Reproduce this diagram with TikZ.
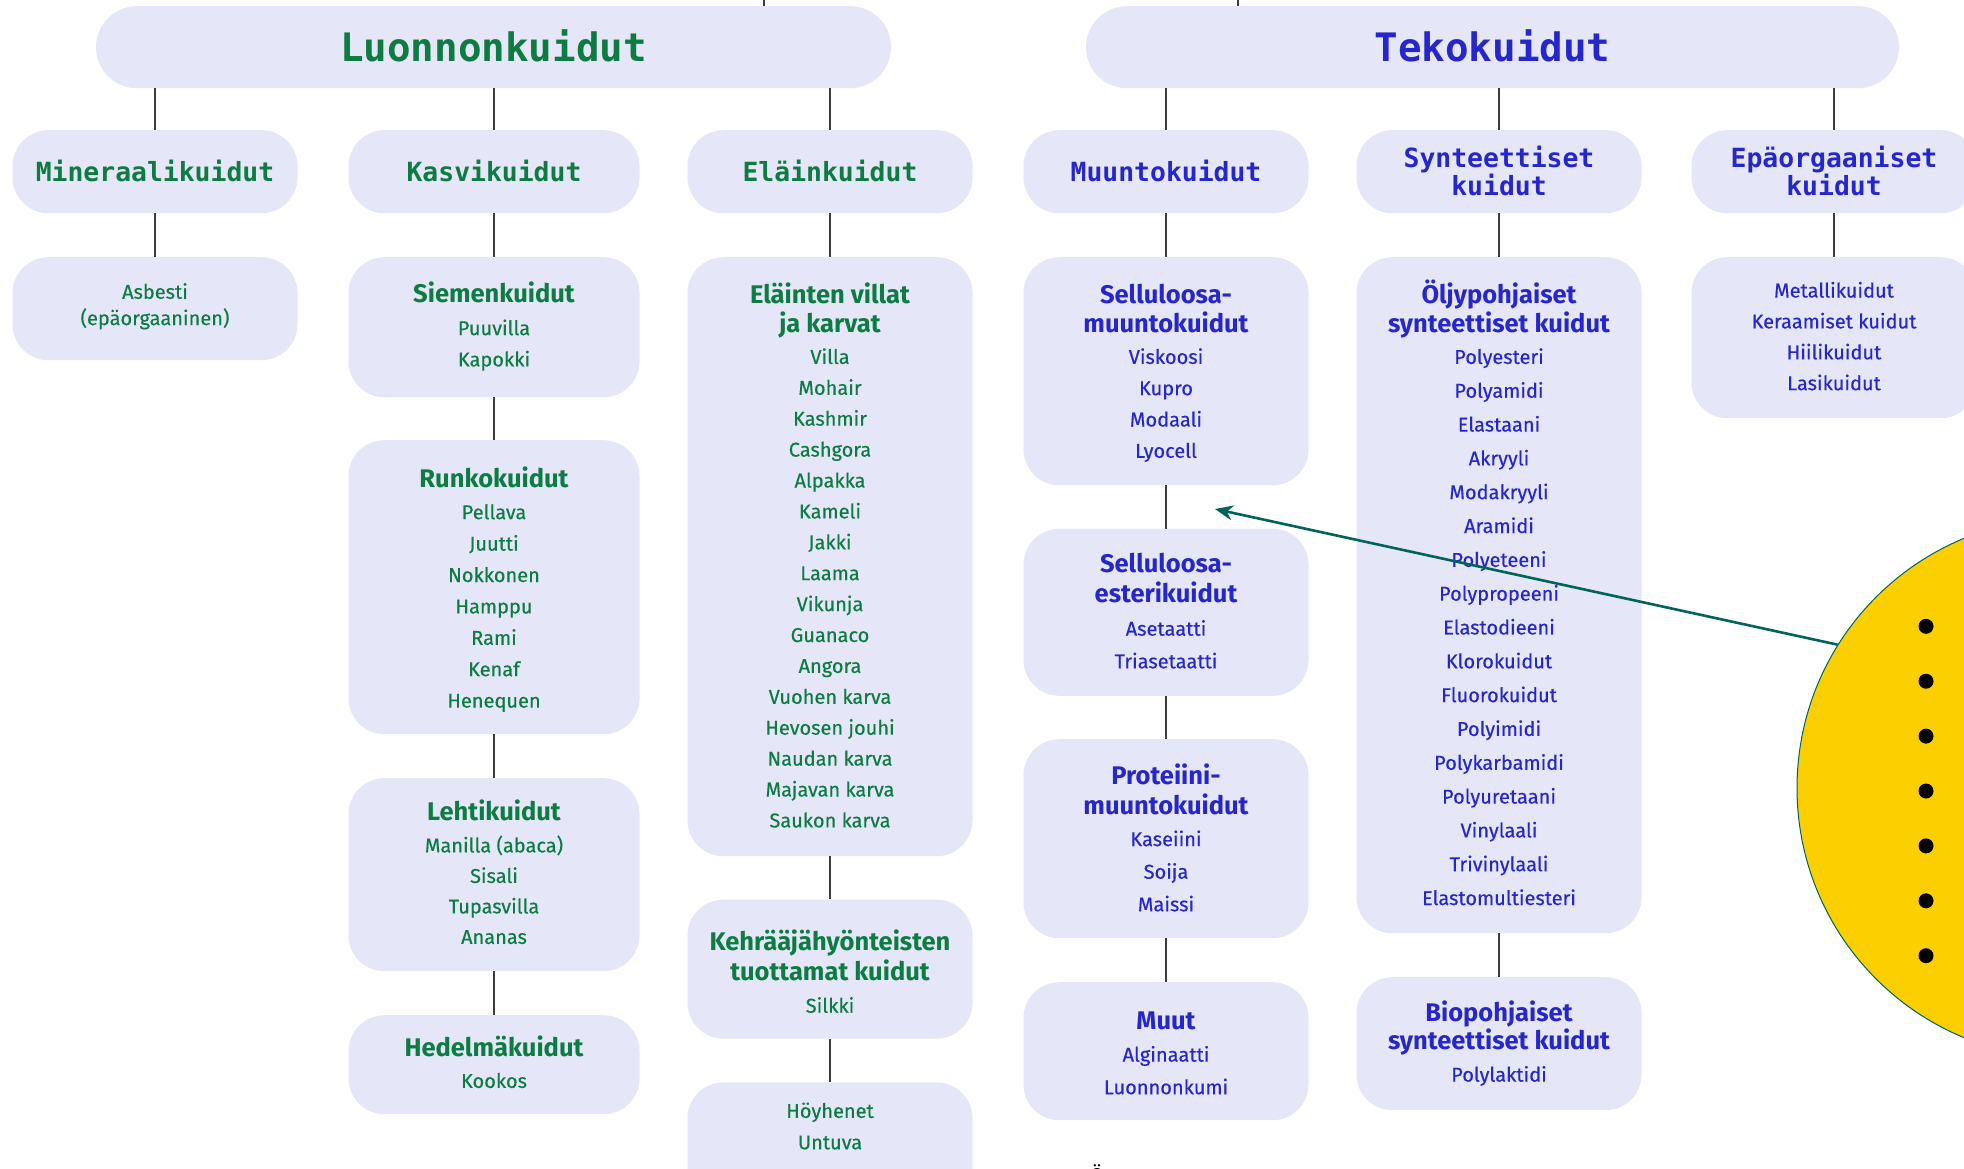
\documentclass[tikz,border=0pt]{standalone}
\usepackage{fontspec}
\setmainfont{Fira Sans}
\newfontfamily\medf[FakeBold=0.35]{Fira Sans}
\newfontfamily\monof{DejaVu Sans Mono}
\usetikzlibrary{arrows.meta}
\definecolor{grn}{RGB}{12,124,66}
\definecolor{blu}{RGB}{38,38,205}
\definecolor{boxf}{RGB}{229,230,247}
\definecolor{tealc}{RGB}{0,100,90}
\definecolor{ylw}{RGB}{252,207,0}
\definecolor{lnc}{RGB}{60,60,60}
\tikzset{
  box/.style={rectangle, rounded corners=36pt, fill=boxf, inner sep=0pt, anchor=north},
  pill/.style={box, rounded corners=41pt},
  conn/.style={draw=lnc, line width=1.3pt},
  arr/.style={draw=tealc, line width=2.6pt, -{Stealth[length=18pt,width=15pt]}},
  itm/.style={anchor=base, inner sep=0pt, font=\medf\fontsize{20}{24}\selectfont},
  ttl/.style={anchor=base, inner sep=0pt, font=\bfseries\fontsize{25.5}{28}\selectfont},
  hdr/.style={anchor=base, inner sep=0pt, font=\monof\bfseries\fontsize{26.4}{28}\selectfont},
  big/.style={anchor=base, inner sep=0pt, font=\monof\bfseries\fontsize{39.2}{42}\selectfont},
  gi/.style={itm, text=grn}, bi/.style={itm, text=blu},
  gt/.style={ttl, text=grn}, bt/.style={ttl, text=blu},
  dotb/.style={circle, fill=black, minimum size=15pt, inner sep=0pt}
}
\newcommand\mylist[6]{%
  \foreach \t [count=\i from 0] in {#6} {\node[#5] (#1\i) at (#2, {#3+\i*#4}) {\t};}}
\begin{document}
\begin{tikzpicture}[x=1pt, y=-1pt]
\useasboundingbox (0,0) rectangle (1964,1168);
\fill[white] (0,0) rectangle (1964,1168);
\clip (0,0) rectangle (1964,1168);

% ---------- row 1
\node[pill, minimum width=795, minimum height=82] (luon) at (493.5,6) {};
\node[big, text=grn] (luonT) at (493.5,61) {Luonnonkuidut};
\node[pill, minimum width=813, minimum height=82] (teko) at (1492.5,6) {};
\node[big, text=blu] (tekoT) at (1492.5,61) {Tekokuidut};
\coordinate (topA) at (764,-2);
\coordinate (topB) at (1238,-2);
\draw[conn] (luon.north -| topA) -- (topA);
\draw[conn] (teko.north -| topB) -- (topB);

% ---------- row 2
\node[box, minimum width=285, minimum height=83] (mine) at (155,130) {};
\node[hdr, text=grn] (mineT) at (155,181.2) {Mineraalikuidut};
\node[box, minimum width=291, minimum height=83] (kasv) at (494,130) {};
\node[hdr, text=grn] (kasvT) at (494,181.2) {Kasvikuidut};
\node[box, minimum width=285, minimum height=83] (elai) at (830,130) {};
\node[hdr, text=grn] (elaiT) at (830,181.2) {Eläinkuidut};
\node[box, minimum width=285, minimum height=83] (muun) at (1166,130) {};
\node[hdr, text=blu] (muunT) at (1166,181.2) {Muuntokuidut};
\node[box, minimum width=285, minimum height=83] (synt) at (1499,130) {};
\node[hdr, text=blu] (syntT1) at (1499,167.4) {Synteettiset};
\node[hdr, text=blu] (syntT2) at (1499,195) {kuidut};
\node[box, minimum width=285, minimum height=83] (epao) at (1834,130) {};
\node[hdr, text=blu] (epaoT1) at (1834,167.4) {Epäorgaaniset};
\node[hdr, text=blu] (epaoT2) at (1834,195) {kuidut};

\foreach \c in {mine,kasv,elai} \draw[conn] (luon.south -| \c.north) -- (\c.north);
\foreach \c in {muun,synt,epao} \draw[conn] (teko.south -| \c.north) -- (\c.north);

% ---------- column 1
\node[box, minimum width=285, minimum height=103] (asb) at (155,257) {};
\node[gi] (asb1) at (155,298.8) {Asbesti};
\node[gi] (asb2) at (155,325.1) {(epäorgaaninen)};
\draw[conn] (mine.south) -- (asb.north);

% ---------- column 2
\node[box, minimum width=291, minimum height=140] (siem) at (494,257) {};
\node[gt] (siemT) at (494,302) {Siemenkuidut};
\mylist{siem}{494}{335.1}{31.3}{gi}{Puuvilla,Kapokki}
\node[box, minimum width=291, minimum height=294] (runk) at (494,440) {};
\node[gt] (runkT) at (494,487.4) {Runkokuidut};
\mylist{runk}{494}{519.2}{31.4}{gi}{Pellava,Juutti,Nokkonen,Hamppu,Rami,Kenaf,Henequen}
\node[box, minimum width=291, minimum height=193] (leht) at (494,778) {};
\node[gt] (lehtT) at (494,820.6) {Lehtikuidut};
\mylist{leht}{494}{852.4}{30.5}{gi}{Manilla (abaca),Sisali,Tupasvilla,Ananas}
\node[box, minimum width=291, minimum height=99] (hede) at (494,1015) {};
\node[gt] (hedeT) at (494,1056.1) {Hedelmäkuidut};
\node[gi] (hede1) at (494,1087.9) {Kookos};
\draw[conn] (kasv.south) -- (siem.north);
\draw[conn] (siem.south) -- (runk.north);
\draw[conn] (runk.south) -- (leht.north);
\draw[conn] (leht.south) -- (hede.north);

% ---------- column 3
\node[box, minimum width=285, minimum height=599] (vill) at (830,257) {};
\node[gt] (villT1) at (830,303.3) {Eläinten villat};
\node[gt] (villT2) at (830,332.1) {ja karvat};
\mylist{vill}{830}{363.9}{30.9}{gi}{Villa,Mohair,Kashmir,Cashgora,Alpakka,Kameli,Jakki,Laama,Vikunja,Guanaco,Angora,Vuohen karva,Hevosen jouhi,Naudan karva,Majavan karva,Saukon karva}
\node[box, minimum width=285, minimum height=139] (kehr) at (830,899.4) {};
\node[gt] (kehrT1) at (830,950.9) {Kehrääjähyönteisten};
\node[gt] (kehrT2) at (830,980.9) {tuottamat kuidut};
\node[gi] (kehr1) at (830,1012.7) {Silkki};
\node[box, minimum width=285, minimum height=130] (hoyh) at (830,1082.2) {};
\node[gi] (hoyh1) at (830,1117.9) {Höyhenet};
\node[gi] (hoyh2) at (830,1149.3) {Untuva};
\draw[conn] (elai.south) -- (vill.north);
\draw[conn] (vill.south) -- (kehr.north);
\draw[conn] (kehr.south) -- (hoyh.north);

% ---------- column 4
\node[box, minimum width=285, minimum height=228] (selm) at (1166,257) {};
\node[bt] (selmT1) at (1166,303.3) {Selluloosa-};
\node[bt] (selmT2) at (1166,332.1) {muuntokuidut};
\mylist{selm}{1166}{363.9}{31.3}{bi}{Viskoosi,Kupro,Modaali,Lyocell}
\node[box, minimum width=285, minimum height=167] (sele) at (1166,528.6) {};
\node[bt] (seleT1) at (1166,572.6) {Selluloosa-};
\node[bt] (seleT2) at (1166,602.6) {esterikuidut};
\mylist{sele}{1166}{635.7}{32.6}{bi}{Asetaatti,Triasetaatti}
\node[box, minimum width=285, minimum height=199] (prot) at (1166,739) {};
\node[bt] (protT1) at (1166,784.3) {Proteiini-};
\node[bt] (protT2) at (1166,814.3) {muuntokuidut};
\mylist{prot}{1166}{846.1}{32.6}{bi}{Kaseiini,Soija,Maissi}
\node[box, minimum width=285, minimum height=138] (muut) at (1166,982) {};
\node[bt] (muutT) at (1166,1029.8) {Muut};
\mylist{muut}{1166}{1061.6}{32.6}{bi}{Alginaatti,Luonnonkumi}
\draw[conn] (muun.south) -- (selm.north);
\draw[conn] (selm.south) -- (sele.north);
\draw[conn] (sele.south) -- (prot.north);
\draw[conn] (prot.south) -- (muut.north);

% ---------- column 5
\node[box, minimum width=285, minimum height=676] (oljy) at (1499,257) {};
\node[bt] (oljyT1) at (1499,303.3) {Öljypohjaiset};
\node[bt] (oljyT2) at (1499,332.1) {synteettiset kuidut};
\mylist{oljy}{1499}{363.9}{33.82}{bi}{Polyesteri,Polyamidi,Elastaani,Akryyli,Modakryyli,Aramidi,Polyeteeni,Polypropeeni,Elastodieeni,Klorokuidut,Fluorokuidut,Polyimidi,Polykarbamidi,Polyuretaani,Vinylaali,Trivinylaali,Elastomultiesteri}
\node[box, minimum width=285, minimum height=133] (biop) at (1499,977) {};
\node[bt] (biopT1) at (1499,1021) {Biopohjaiset};
\node[bt] (biopT2) at (1499,1049.8) {synteettiset kuidut};
\node[bi] (biop1) at (1499,1081.6) {Polylaktidi};
\draw[conn] (synt.south) -- (oljy.north);
\draw[conn] (oljy.south) -- (biop.north);

% ---------- column 6
\node[box, minimum width=285, minimum height=161] (meta) at (1834,257) {};
\mylist{meta}{1834}{297.5}{30.9}{bi}{Metallikuidut,Keraamiset kuidut,Hiilikuidut,Lasikuidut}
\draw[conn] (epao.south) -- (meta.north);

% ---------- yellow note with arrow
\node[circle, fill=ylw, draw=tealc, line width=1pt, minimum size=540pt, inner sep=0pt] (note) at (2067,788) {};
\foreach \i in {0,...,6} \node[dotb] (dot\i) at (1926,{626.3+\i*54.9}) {};
\coordinate (arrtip) at (1215,509);
\draw[arr] (note.148) -- (arrtip);

% ---------- partial letter at the bottom edge
\node[anchor=base, inner sep=0pt, font=\fontsize{20}{24}\selectfont] (oe) at (1097,1182) {Ö};
\end{tikzpicture}
\end{document}
